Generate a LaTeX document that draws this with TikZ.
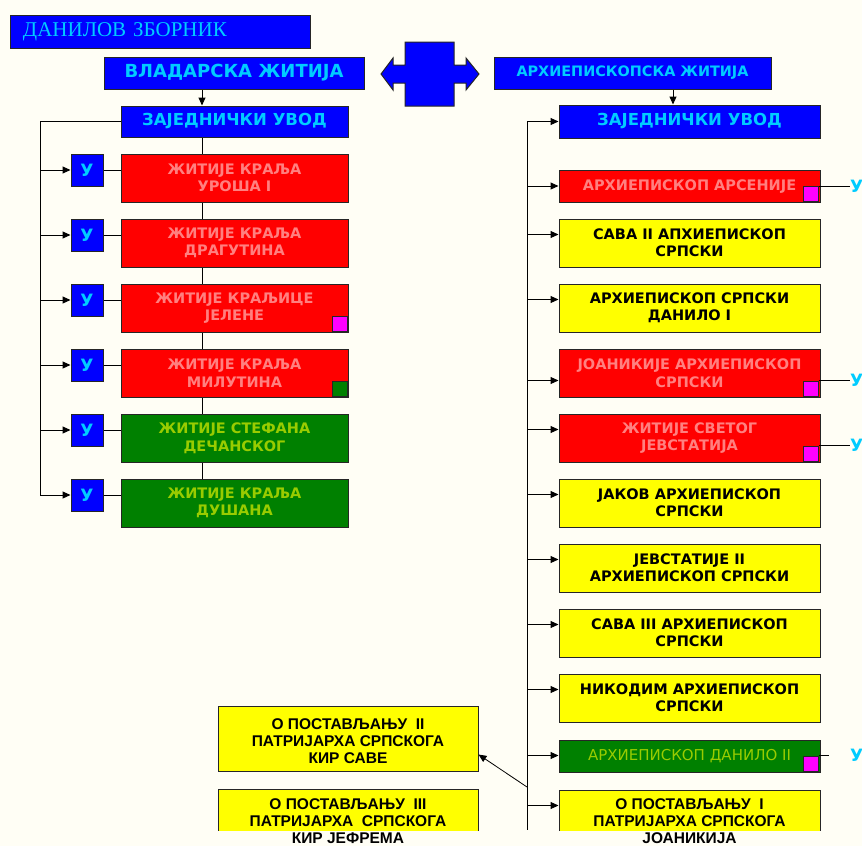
\documentclass[tikz,border=0pt]{standalone}
\usepackage{fontspec}
\setmainfont{DejaVu Sans}
\newfontfamily\arialfont{Liberation Sans}
\newfontfamily\timesfont{Liberation Serif}
\usetikzlibrary{positioning,arrows.meta}
\definecolor{cream}{RGB}{255,254,245}
\definecolor{boxblue}{RGB}{0,0,255}
\definecolor{lightcyan}{RGB}{0,204,255}
\definecolor{salmon}{RGB}{255,128,128}
\definecolor{boxgreen}{RGB}{0,128,0}
\definecolor{limegreen}{RGB}{153,204,0}
\definecolor{boxred}{RGB}{255,0,0}
\definecolor{boxyellow}{RGB}{255,255,0}
\definecolor{boxmagenta}{RGB}{255,0,255}

\begin{document}
\begin{tikzpicture}[x=1pt,y=-1pt,node distance=65pt,line width=1pt,
		>={Triangle[length=8pt,width=7pt]},
		box/.style={rectangle,draw=black!85,inner sep=0pt,align=center,minimum height=48pt},
		head node/.style={box,fill=boxblue,text=lightcyan,font=\bfseries\fontsize{16.5}{20}\selectfont,minimum height=32pt},
		red node/.style={box,fill=boxred,text=salmon,font=\bfseries\fontsize{14.5}{17.5}\selectfont},
		green node/.style={box,fill=boxgreen,text=limegreen,font=\bfseries\fontsize{14.5}{17.5}\selectfont},
		yellow node/.style={box,fill=boxyellow,text=black,font=\bfseries\fontsize{14.5}{17}\selectfont},
		u node/.style={box,fill=boxblue,text=lightcyan,font=\bfseries\fontsize{17}{20}\selectfont,minimum width=32pt,minimum height=32pt},
		u label/.style={text=lightcyan,font=\bfseries\fontsize{17}{20}\selectfont,inner sep=0pt},
		mark effect/.style={rectangle,draw=black!85,line width=0.8pt,minimum size=15pt,inner sep=0pt,anchor=south east},
		pat box/.style={box,fill=boxyellow,minimum height=65pt,minimum width=260pt},
		pat text/.style={text=black,font=\arialfont\bfseries\fontsize{15.5}{17}\selectfont,align=center,inner sep=0pt}]
		\fill[cream] (0,0) rectangle (862,846);
		\useasboundingbox (0,0) rectangle (862,846);
		
		% headings
		\node[box,fill=boxblue,text=lightcyan,font=\timesfont\fontsize{21}{24}\selectfont,minimum height=33pt,inner xsep=13pt,text width=274pt,align=left] (zbornik) at (160,31.5) {ДАНИЛОВ ЗБОРНИК};
		\node[head node,minimum width=260pt,font=\bfseries\fontsize{18}{20}\selectfont] (vlad) at (234,73) {ВЛАДАРСКА ЖИТИЈА};
		\node[head node,minimum width=227pt,minimum height=31pt] (zuvL) at (234.5,121.5) {ЗАЈЕДНИЧКИ УВОД};
		\node[head node,minimum width=277pt,font=\bfseries\fontsize{14.4}{17}\selectfont] (arh) at (632.5,73) {АРХИЕПИСКОПСКА ЖИТИЈА};
		\node[head node,minimum width=261pt,minimum height=33pt] (zuvR) at (689.5,121.5) {ЗАЈЕДНИЧКИ УВОД};
		\draw[fill=boxblue,draw=black!85] (381,74) -- (393,58) -- (393,65) -- (405,65) -- (405,42) -- (454,42) -- (454,65)
			-- (466,65) -- (466,58) -- (479,74) -- (466,90) -- (466,83) -- (454,83) -- (454,106) -- (405,106)
			-- (405,83) -- (393,83) -- (393,90) -- cycle;
		
		% left column
		\node[red node,minimum width=227pt] (urosh) at (234.5,178) {ЖИТИЈЕ КРАЉА\\УРОША I};
		\node[red node,minimum width=227pt] (dragutin) [below of=urosh] {ЖИТИЈЕ КРАЉА\\ДРАГУТИНА};
		\node[red node,minimum width=227pt] (jelena) [below of=dragutin] {ЖИТИЈЕ КРАЉИЦЕ\\ЈЕЛЕНЕ};
		\node[red node,minimum width=227pt] (milutin) [below of=jelena] {ЖИТИЈЕ КРАЉА\\МИЛУТИНА};
		\node[green node,minimum width=227pt] (stefan) [below of=milutin] {ЖИТИЈЕ СТЕФАНА\\ДЕЧАНСКОГ};
		\node[green node,minimum width=227pt] (dushan) [below of=stefan] {ЖИТИЈЕ КРАЉА\\ДУШАНА};
		\node[mark effect,fill=boxmagenta] (mJel) at ([xshift=-1pt,yshift=1pt]jelena.south east) {};
		\node[mark effect,fill=boxgreen] (mMil) at ([xshift=-1pt,yshift=1pt]milutin.south east) {};
		
		\node[u node,left=17pt of urosh.north west,anchor=north east] (u1) {У};
		\node[u node,left=17pt of dragutin.north west,anchor=north east] (u2) {У};
		\node[u node,left=17pt of jelena.north west,anchor=north east] (u3) {У};
		\node[u node,left=17pt of milutin.north west,anchor=north east] (u4) {У};
		\node[u node,left=17pt of stefan.north west,anchor=north east] (u5) {У};
		\node[u node,left=17pt of dushan.north west,anchor=north east] (u6) {У};
		
		\coordinate (axL) at (202,0);
		\coordinate (spL) at (40,121.5);
		\draw[->] (vlad.south -| axL) -- (zuvL.north -| axL);
		\draw (zuvL.south -| axL) -- (urosh.north -| axL) (urosh.south -| axL) -- (dragutin.north -| axL)
			(dragutin.south -| axL) -- (jelena.north -| axL) (jelena.south -| axL) -- (milutin.north -| axL)
			(milutin.south -| axL) -- (stefan.north -| axL) (stefan.south -| axL) -- (dushan.north -| axL);
		\draw (zuvL.west) -- (spL) -- (spL |- u6);
		\path[->]
		(spL |- u1) edge (u1)
		(spL |- u2) edge (u2)
		(spL |- u3) edge (u3)
		(spL |- u4) edge (u4)
		(spL |- u5) edge (u5)
		(spL |- u6) edge (u6);
		\draw (u1) -- (u1 -| urosh.west) (u2) -- (u2 -| dragutin.west) (u3) -- (u3 -| jelena.west)
			(u4) -- (u4 -| milutin.west) (u5) -- (u5 -| stefan.west) (u6) -- (u6 -| dushan.west);
		
		% right column
		\node[red node,minimum width=261pt,minimum height=32pt] (arsenije) at (689.5,186.5) {АРХИЕПИСКОП АРСЕНИЈЕ};
		\node[yellow node,minimum width=261pt] (sava2) at (689.5,243) {САВА II АПХИЕПИСКОП\\СРПСКИ};
		\node[yellow node,minimum width=261pt] (danilo1) [below of=sava2] {АРХИЕПИСКОП СРПСКИ\\ДАНИЛО I};
		\node[red node,minimum width=261pt] (joanikije) [below of=danilo1] {ЈОАНИКИЈЕ АРХИЕПИСКОП\\СРПСКИ};
		\node[red node,minimum width=261pt] (jevstatije) [below of=joanikije] {ЖИТИЈЕ СВЕТОГ\\ЈЕВСТАТИЈА};
		\node[yellow node,minimum width=261pt] (jakov) [below of=jevstatije] {ЈАКОВ АРХИЕПИСКОП\\СРПСКИ};
		\node[yellow node,minimum width=261pt] (jevstatije2) [below of=jakov] {ЈЕВСТАТИЈЕ II\\АРХИЕПИСКОП СРПСКИ};
		\node[yellow node,minimum width=261pt] (sava3) [below of=jevstatije2] {САВА III АРХИЕПИСКОП\\СРПСКИ};
		\node[yellow node,minimum width=261pt] (nikodim) [below of=sava3] {НИКОДИМ АРХИЕПИСКОП\\СРПСКИ};
		\node[box,fill=boxgreen,text=limegreen,font=\fontsize{15}{18}\selectfont,minimum width=261pt,minimum height=32pt,below=17pt of nikodim] (danilo2) {АРХИЕПИСКОП ДАНИЛО II};
		
		% patriarchs, the lower boxes cut at the edge
		\node[pat box] (kirsava) at (348,738.5) {};
		\begin{scope}
			\clip (0,0) rectangle (862,830);
			\node[pat box,below=17pt of kirsava] (kirjefrem) {};
			\node[pat box,minimum width=261pt,below=17pt of danilo2] (joanikije1) {};
		\end{scope}
		\node[pat text,yshift=-3pt] at (kirsava) {О ПОСТАВЉАЊУ~ II\\ПАТРИЈАРХА СРПСКОГА\\КИР САВЕ};
		\node[pat text] at (kirjefrem) {О ПОСТАВЉАЊУ~ III\\ПАТРИЈАРХА~ СРПСКОГА\\КИР ЈЕФРЕМА};
		\node[pat text,yshift=1.5pt] at (joanikije1) {О ПОСТАВЉАЊУ~ I\\ПАТРИЈАРХА СРПСКОГА\\ЈОАНИКИЈА};
		
		\node[mark effect,fill=boxmagenta] (mArs) at ([xshift=-2pt,yshift=1pt]arsenije.south east) {};
		\node[mark effect,fill=boxmagenta] (mJoa) at ([xshift=-2pt,yshift=1pt]joanikije.south east) {};
		\node[mark effect,fill=boxmagenta] (mJev) at ([xshift=-2pt,yshift=1pt]jevstatije.south east) {};
		\node[mark effect,fill=boxmagenta] (mDan) at ([xshift=-2pt,yshift=1pt]danilo2.south east) {};
		\node[u label,anchor=west,xshift=31pt] (uArs) at (mArs.north east) {У};
		\node[u label,anchor=west,xshift=31pt] (uJoa) at (mJoa.north east) {У};
		\node[u label,anchor=west,xshift=31pt] (uJev) at (mJev.north east) {У};
		\node[u label,anchor=west,xshift=31pt] (uDan) at (mDan.north east) {У};
		\draw[shorten >=21pt] (mArs.north east) -- (uArs.west) (mJoa.north east) -- (uJoa.west)
			(mJev.north east) -- (uJev.west) (mDan.north east) -- (uDan.west);
		
		\coordinate (axR) at (673,0);
		\coordinate (spR) at (527,121.5);
		\coordinate (spRend) at (527,830);
		\coordinate (kink) at (527,787);
		\draw[->] (arh.south -| axR) -- (zuvR.north -| axR);
		\draw (spR) -- (spRend);
		\path[->] (spR) edge (zuvR);
		\draw[<-] ([yshift=-16pt]arsenije.north west) -- ++(-32,0);
		\draw[<-] ([yshift=-16pt]sava2.north west) -- ++(-32,0);
		\draw[<-] ([yshift=-16pt]danilo1.north west) -- ++(-32,0);
		\draw[<-] ([yshift=-32pt]joanikije.north west) -- ++(-32,0);
		\draw[<-] ([yshift=-16pt]jevstatije.north west) -- ++(-32,0);
		\draw[<-] ([yshift=-16pt]jakov.north west) -- ++(-32,0);
		\draw[<-] ([yshift=-16pt]jevstatije2.north west) -- ++(-32,0);
		\draw[<-] ([yshift=-16pt]sava3.north west) -- ++(-32,0);
		\draw[<-] ([yshift=-16pt]nikodim.north west) -- ++(-32,0);
		\draw[<-] ([yshift=-16pt]danilo2.north west) -- ++(-32,0);
		\draw[<-] ([yshift=-16pt]joanikije1.north west) -- ++(-32,0);
		\draw[->,line width=0.8pt] (kink) -- ([yshift=-16pt]kirsava.east);
\end{tikzpicture}
\end{document}
